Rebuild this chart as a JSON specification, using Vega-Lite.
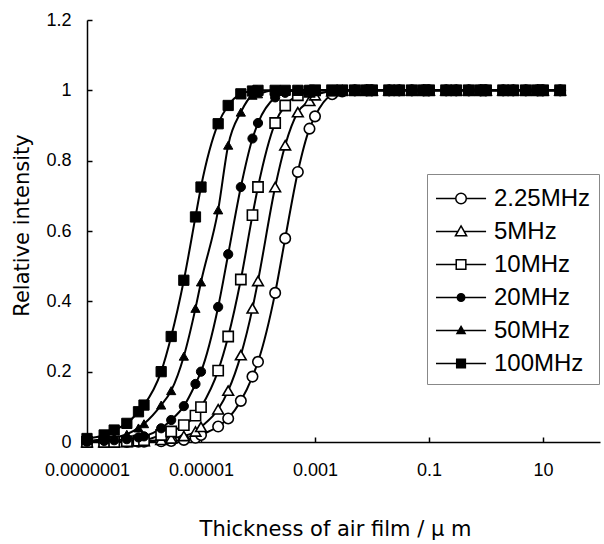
{
"$schema": "https://vega.github.io/schema/vega-lite/v6.json",
"width": 513, "height": 422,
"autosize": {"type": "none"},
"padding": {"left": 87, "top": 20, "right": 4, "bottom": 102},
"background": "white",
"config": {"view": {"stroke": null}, "font": "Liberation Sans"},
"data": {"values": [
{"f":"2.25MHz","x":1e-7,"y":0},{"f":"2.25MHz","x":2e-7,"y":0},{"f":"2.25MHz","x":3e-7,"y":0},{"f":"2.25MHz","x":5e-7,"y":0},{"f":"2.25MHz","x":8e-7,"y":0.001},
{"f":"2.25MHz","x":1e-6,"y":0.001},{"f":"2.25MHz","x":2e-6,"y":0.002},{"f":"2.25MHz","x":3e-6,"y":0.003},{"f":"2.25MHz","x":5e-6,"y":0.006},{"f":"2.25MHz","x":8e-6,"y":0.012},
{"f":"2.25MHz","x":1e-5,"y":0.02},{"f":"2.25MHz","x":2e-5,"y":0.044},{"f":"2.25MHz","x":3e-5,"y":0.067},{"f":"2.25MHz","x":5e-5,"y":0.117},{"f":"2.25MHz","x":8e-5,"y":0.186},
{"f":"2.25MHz","x":1e-4,"y":0.228},{"f":"2.25MHz","x":2e-4,"y":0.424},{"f":"2.25MHz","x":3e-4,"y":0.579},{"f":"2.25MHz","x":5e-4,"y":0.768},{"f":"2.25MHz","x":8e-4,"y":0.891},
{"f":"2.25MHz","x":0.001,"y":0.926},{"f":"2.25MHz","x":0.002,"y":0.989},{"f":"2.25MHz","x":0.003,"y":0.997},{"f":"2.25MHz","x":0.005,"y":1},{"f":"2.25MHz","x":0.008,"y":1},
{"f":"2.25MHz","x":0.01,"y":1},{"f":"2.25MHz","x":0.02,"y":1},{"f":"2.25MHz","x":0.03,"y":1},{"f":"2.25MHz","x":0.05,"y":1},{"f":"2.25MHz","x":0.08,"y":1},
{"f":"2.25MHz","x":0.1,"y":1},{"f":"2.25MHz","x":0.2,"y":1},{"f":"2.25MHz","x":0.3,"y":1},{"f":"2.25MHz","x":0.5,"y":1},{"f":"2.25MHz","x":0.8,"y":1},
{"f":"2.25MHz","x":1,"y":1},{"f":"2.25MHz","x":2,"y":1},{"f":"2.25MHz","x":3,"y":1},{"f":"2.25MHz","x":5,"y":1},{"f":"2.25MHz","x":8,"y":1},
{"f":"2.25MHz","x":10,"y":1},{"f":"2.25MHz","x":20,"y":1},

{"f":"5MHz","x":1e-7,"y":0},{"f":"5MHz","x":2e-7,"y":0},{"f":"5MHz","x":3e-7,"y":0},{"f":"5MHz","x":5e-7,"y":0},{"f":"5MHz","x":8e-7,"y":0.002},
{"f":"5MHz","x":1e-6,"y":0.003},{"f":"5MHz","x":2e-6,"y":0.006},{"f":"5MHz","x":3e-6,"y":0.01},{"f":"5MHz","x":5e-6,"y":0.017},{"f":"5MHz","x":8e-6,"y":0.03},
{"f":"5MHz","x":1e-5,"y":0.043},{"f":"5MHz","x":2e-5,"y":0.093},{"f":"5MHz","x":3e-5,"y":0.146},{"f":"5MHz","x":5e-5,"y":0.247},{"f":"5MHz","x":8e-5,"y":0.38},
{"f":"5MHz","x":1e-4,"y":0.458},{"f":"5MHz","x":2e-4,"y":0.725},{"f":"5MHz","x":3e-4,"y":0.844},{"f":"5MHz","x":5e-4,"y":0.938},{"f":"5MHz","x":8e-4,"y":0.97},
{"f":"5MHz","x":0.001,"y":0.986},{"f":"5MHz","x":0.002,"y":0.998},{"f":"5MHz","x":0.003,"y":1},{"f":"5MHz","x":0.005,"y":1},{"f":"5MHz","x":0.008,"y":1},
{"f":"5MHz","x":0.01,"y":1},{"f":"5MHz","x":0.02,"y":1},{"f":"5MHz","x":0.03,"y":1},{"f":"5MHz","x":0.05,"y":1},{"f":"5MHz","x":0.08,"y":1},
{"f":"5MHz","x":0.1,"y":1},{"f":"5MHz","x":0.2,"y":1},{"f":"5MHz","x":0.3,"y":1},{"f":"5MHz","x":0.5,"y":1},{"f":"5MHz","x":0.8,"y":1},
{"f":"5MHz","x":1,"y":1},{"f":"5MHz","x":2,"y":1},{"f":"5MHz","x":3,"y":1},{"f":"5MHz","x":5,"y":1},{"f":"5MHz","x":8,"y":1},
{"f":"5MHz","x":10,"y":1},{"f":"5MHz","x":20,"y":1},

{"f":"10MHz","x":1e-7,"y":0},{"f":"10MHz","x":2e-7,"y":0},{"f":"10MHz","x":3e-7,"y":0},{"f":"10MHz","x":5e-7,"y":0.002},{"f":"10MHz","x":8e-7,"y":0.004},
{"f":"10MHz","x":1e-6,"y":0.005},{"f":"10MHz","x":2e-6,"y":0.02},{"f":"10MHz","x":3e-6,"y":0.03},{"f":"10MHz","x":5e-6,"y":0.048},{"f":"10MHz","x":8e-6,"y":0.075},
{"f":"10MHz","x":1e-5,"y":0.099},{"f":"10MHz","x":2e-5,"y":0.203},{"f":"10MHz","x":3e-5,"y":0.3},{"f":"10MHz","x":5e-5,"y":0.462},{"f":"10MHz","x":8e-5,"y":0.645},
{"f":"10MHz","x":1e-4,"y":0.725},{"f":"10MHz","x":2e-4,"y":0.907},{"f":"10MHz","x":3e-4,"y":0.957},{"f":"10MHz","x":5e-4,"y":0.986},{"f":"10MHz","x":8e-4,"y":0.996},
{"f":"10MHz","x":0.001,"y":1},{"f":"10MHz","x":0.002,"y":1},{"f":"10MHz","x":0.003,"y":1},{"f":"10MHz","x":0.005,"y":1},{"f":"10MHz","x":0.008,"y":1},
{"f":"10MHz","x":0.01,"y":1},{"f":"10MHz","x":0.02,"y":1},{"f":"10MHz","x":0.03,"y":1},{"f":"10MHz","x":0.05,"y":1},{"f":"10MHz","x":0.08,"y":1},
{"f":"10MHz","x":0.1,"y":1},{"f":"10MHz","x":0.2,"y":1},{"f":"10MHz","x":0.3,"y":1},{"f":"10MHz","x":0.5,"y":1},{"f":"10MHz","x":0.8,"y":1},
{"f":"10MHz","x":1,"y":1},{"f":"10MHz","x":2,"y":1},{"f":"10MHz","x":3,"y":1},{"f":"10MHz","x":5,"y":1},{"f":"10MHz","x":8,"y":1},
{"f":"10MHz","x":10,"y":1},{"f":"10MHz","x":20,"y":1},

{"f":"20MHz","x":1e-7,"y":0.001},{"f":"20MHz","x":2e-7,"y":0.003},{"f":"20MHz","x":3e-7,"y":0.005},{"f":"20MHz","x":5e-7,"y":0.008},{"f":"20MHz","x":8e-7,"y":0.013},
{"f":"20MHz","x":1e-6,"y":0.016},{"f":"20MHz","x":2e-6,"y":0.039},{"f":"20MHz","x":3e-6,"y":0.0625},{"f":"20MHz","x":5e-6,"y":0.102},{"f":"20MHz","x":8e-6,"y":0.165},
{"f":"20MHz","x":1e-5,"y":0.2},{"f":"20MHz","x":2e-5,"y":0.384},{"f":"20MHz","x":3e-5,"y":0.534},{"f":"20MHz","x":5e-5,"y":0.725},{"f":"20MHz","x":8e-5,"y":0.863},
{"f":"20MHz","x":1e-4,"y":0.907},{"f":"20MHz","x":2e-4,"y":0.98},{"f":"20MHz","x":3e-4,"y":0.993},{"f":"20MHz","x":5e-4,"y":1},{"f":"20MHz","x":8e-4,"y":1},
{"f":"20MHz","x":0.001,"y":1},{"f":"20MHz","x":0.002,"y":1},{"f":"20MHz","x":0.003,"y":1},{"f":"20MHz","x":0.005,"y":1},{"f":"20MHz","x":0.008,"y":1},
{"f":"20MHz","x":0.01,"y":1},{"f":"20MHz","x":0.02,"y":1},{"f":"20MHz","x":0.03,"y":1},{"f":"20MHz","x":0.05,"y":1},{"f":"20MHz","x":0.08,"y":1},
{"f":"20MHz","x":0.1,"y":1},{"f":"20MHz","x":0.2,"y":1},{"f":"20MHz","x":0.3,"y":1},{"f":"20MHz","x":0.5,"y":1},{"f":"20MHz","x":0.8,"y":1},
{"f":"20MHz","x":1,"y":1},{"f":"20MHz","x":2,"y":1},{"f":"20MHz","x":3,"y":1},{"f":"20MHz","x":5,"y":1},{"f":"20MHz","x":8,"y":1},
{"f":"20MHz","x":10,"y":1},{"f":"20MHz","x":20,"y":1},

{"f":"50MHz","x":1e-7,"y":0.003},{"f":"50MHz","x":2e-7,"y":0.008},{"f":"50MHz","x":3e-7,"y":0.012},{"f":"50MHz","x":5e-7,"y":0.022},{"f":"50MHz","x":8e-7,"y":0.04},
{"f":"50MHz","x":1e-6,"y":0.052},{"f":"50MHz","x":2e-6,"y":0.105},{"f":"50MHz","x":3e-6,"y":0.146},{"f":"50MHz","x":5e-6,"y":0.244},{"f":"50MHz","x":8e-6,"y":0.38},
{"f":"50MHz","x":1e-5,"y":0.455},{"f":"50MHz","x":2e-5,"y":0.66},{"f":"50MHz","x":3e-5,"y":0.844},{"f":"50MHz","x":5e-5,"y":0.938},{"f":"50MHz","x":8e-5,"y":0.986},
{"f":"50MHz","x":1e-4,"y":0.99},{"f":"50MHz","x":2e-4,"y":1},{"f":"50MHz","x":3e-4,"y":1},{"f":"50MHz","x":5e-4,"y":1},{"f":"50MHz","x":8e-4,"y":1},
{"f":"50MHz","x":0.001,"y":1},{"f":"50MHz","x":0.002,"y":1},{"f":"50MHz","x":0.003,"y":1},{"f":"50MHz","x":0.005,"y":1},{"f":"50MHz","x":0.008,"y":1},
{"f":"50MHz","x":0.01,"y":1},{"f":"50MHz","x":0.02,"y":1},{"f":"50MHz","x":0.03,"y":1},{"f":"50MHz","x":0.05,"y":1},{"f":"50MHz","x":0.08,"y":1},
{"f":"50MHz","x":0.1,"y":1},{"f":"50MHz","x":0.2,"y":1},{"f":"50MHz","x":0.3,"y":1},{"f":"50MHz","x":0.5,"y":1},{"f":"50MHz","x":0.8,"y":1},
{"f":"50MHz","x":1,"y":1},{"f":"50MHz","x":2,"y":1},{"f":"50MHz","x":3,"y":1},{"f":"50MHz","x":5,"y":1},{"f":"50MHz","x":8,"y":1},
{"f":"50MHz","x":10,"y":1},{"f":"50MHz","x":20,"y":1},

{"f":"100MHz","x":1e-7,"y":0.01},{"f":"100MHz","x":2e-7,"y":0.02},{"f":"100MHz","x":3e-7,"y":0.034},{"f":"100MHz","x":5e-7,"y":0.053},{"f":"100MHz","x":8e-7,"y":0.086},
{"f":"100MHz","x":1e-6,"y":0.105},{"f":"100MHz","x":2e-6,"y":0.2},{"f":"100MHz","x":3e-6,"y":0.3},{"f":"100MHz","x":5e-6,"y":0.46},{"f":"100MHz","x":8e-6,"y":0.64},
{"f":"100MHz","x":1e-5,"y":0.725},{"f":"100MHz","x":2e-5,"y":0.905},{"f":"100MHz","x":3e-5,"y":0.957},{"f":"100MHz","x":5e-5,"y":0.99},{"f":"100MHz","x":8e-5,"y":0.998},
{"f":"100MHz","x":1e-4,"y":1},{"f":"100MHz","x":2e-4,"y":1},{"f":"100MHz","x":3e-4,"y":1},{"f":"100MHz","x":5e-4,"y":1},{"f":"100MHz","x":8e-4,"y":1},
{"f":"100MHz","x":0.001,"y":1},{"f":"100MHz","x":0.002,"y":1},{"f":"100MHz","x":0.003,"y":1},{"f":"100MHz","x":0.005,"y":1},{"f":"100MHz","x":0.008,"y":1},
{"f":"100MHz","x":0.01,"y":1},{"f":"100MHz","x":0.02,"y":1},{"f":"100MHz","x":0.03,"y":1},{"f":"100MHz","x":0.05,"y":1},{"f":"100MHz","x":0.08,"y":1},
{"f":"100MHz","x":0.1,"y":1},{"f":"100MHz","x":0.2,"y":1},{"f":"100MHz","x":0.3,"y":1},{"f":"100MHz","x":0.5,"y":1},{"f":"100MHz","x":0.8,"y":1},
{"f":"100MHz","x":1,"y":1},{"f":"100MHz","x":2,"y":1},{"f":"100MHz","x":3,"y":1},{"f":"100MHz","x":5,"y":1},{"f":"100MHz","x":8,"y":1},
{"f":"100MHz","x":10,"y":1},{"f":"100MHz","x":20,"y":1}
]},
"encoding": {
  "x": {"field": "x", "type": "quantitative",
    "scale": {"type": "log", "domain": [1e-7, 100]},
    "axis": {"values": [1e-7, 1e-5, 0.001, 0.1, 10], "format": ".7~f", "grid": false,
      "title": "Thickness of air film / μ m",
      "domainColor": "black", "domainWidth": 1.5, "tickColor": "black", "tickWidth": 1.5, "tickSize": -5,
      "labelPadding": 24, "labelFontSize": 18, "labelFont": "Liberation Sans", "labelColor": "black",
      "labelFlush": false, "labelOverlap": false,
      "titleFont": "DejaVu Sans", "titleFontSize": 21, "titleFontWeight": "normal", "titleColor": "black",
      "titleX": 248, "titleY": 76, "titleBaseline": "top"}},
  "y": {"field": "y", "type": "quantitative",
    "scale": {"domain": [0, 1.2]},
    "axis": {"values": [0, 0.2, 0.4, 0.6, 0.8, 1, 1.2], "format": "~g", "grid": false,
      "title": "Relative intensity",
      "domainColor": "black", "domainWidth": 1.5, "tickColor": "black", "tickWidth": 1.5, "tickSize": -5,
      "labelPadding": 21, "labelFontSize": 18, "labelFont": "Liberation Sans", "labelColor": "black",
      "labelFlush": false, "labelOverlap": false,
      "titleFont": "DejaVu Sans", "titleFontSize": 21, "titleFontWeight": "normal", "titleColor": "black",
      "titleX": -55, "titleY": 205, "titleBaseline": "bottom"}}
},
"layer": [
  {"mark": {"type": "line", "color": "black", "strokeWidth": 2, "interpolate": "monotone"},
   "encoding": {"detail": {"field": "f"}}},
  {"encoding": {
     "stroke": {"value": "black"},
     "fill": {"field": "f", "type": "nominal",
       "scale": {"domain": ["2.25MHz","5MHz","10MHz","20MHz","50MHz","100MHz"], "range": ["white","white","white","black","black","black"]},
       "legend": {"title": null, "orient": "none", "legendX": 340, "legendY": 154,
         "symbolSize": 961, "labelFontSize": 24, "labelFont": "Liberation Sans", "labelColor": "black",
         "labelOffset": 26, "rowPadding": 4, "padding": 8,
         "strokeColor": "#888", "fillColor": "white",
         "symbolStrokeWidth": 1.5, "symbolStrokeColor": "black",
         "symbolType": {"expr": "datum.value === '2.25MHz' ? 'M-1,0H0.275M0.955,0H2.23M0.275,0A0.34,0.34,0,1,1,0.955,0A0.34,0.34,0,1,1,0.275,0Z' : datum.value === '5MHz' ? 'M-1,0H0.415M0.815,0H2.23M0.615,-0.36L0.975,0.28L0.255,0.28Z' : datum.value === '10MHz' ? 'M-1,0H0.305M0.925,0H2.23M0.305,-0.31H0.925V0.31H0.305Z' : datum.value === '20MHz' ? 'M-1,0H2.23M0.375,0A0.24,0.24,0,1,1,0.855,0A0.24,0.24,0,1,1,0.375,0Z' : datum.value === '50MHz' ? 'M-1,0H2.23M0.615,-0.26L0.875,0.2L0.355,0.2Z' : 'M-1,0H2.23M0.335,-0.28H0.895V0.28H0.335Z'"}
       }}},
   "layer": [
     {"transform": [{"filter": "datum.f === '2.25MHz'"}], "mark": {"type": "point", "shape": "circle", "size": 110, "strokeWidth": 1.6, "opacity": 1}},
     {"transform": [{"filter": "datum.f === '5MHz'"}], "mark": {"type": "point", "shape": "triangle-up", "size": 115, "strokeWidth": 1.6, "opacity": 1}},
     {"transform": [{"filter": "datum.f === '10MHz'"}], "mark": {"type": "point", "shape": "square", "size": 105, "strokeWidth": 1.6, "opacity": 1}},
     {"transform": [{"filter": "datum.f === '20MHz'"}], "mark": {"type": "point", "shape": "circle", "size": 85, "strokeWidth": 1, "opacity": 1}},
     {"transform": [{"filter": "datum.f === '50MHz'"}], "mark": {"type": "point", "shape": "triangle-up", "size": 85, "strokeWidth": 1, "opacity": 1}},
     {"transform": [{"filter": "datum.f === '100MHz'"}], "mark": {"type": "point", "shape": "square", "size": 105, "strokeWidth": 1, "opacity": 1}}
   ]}
]
}
